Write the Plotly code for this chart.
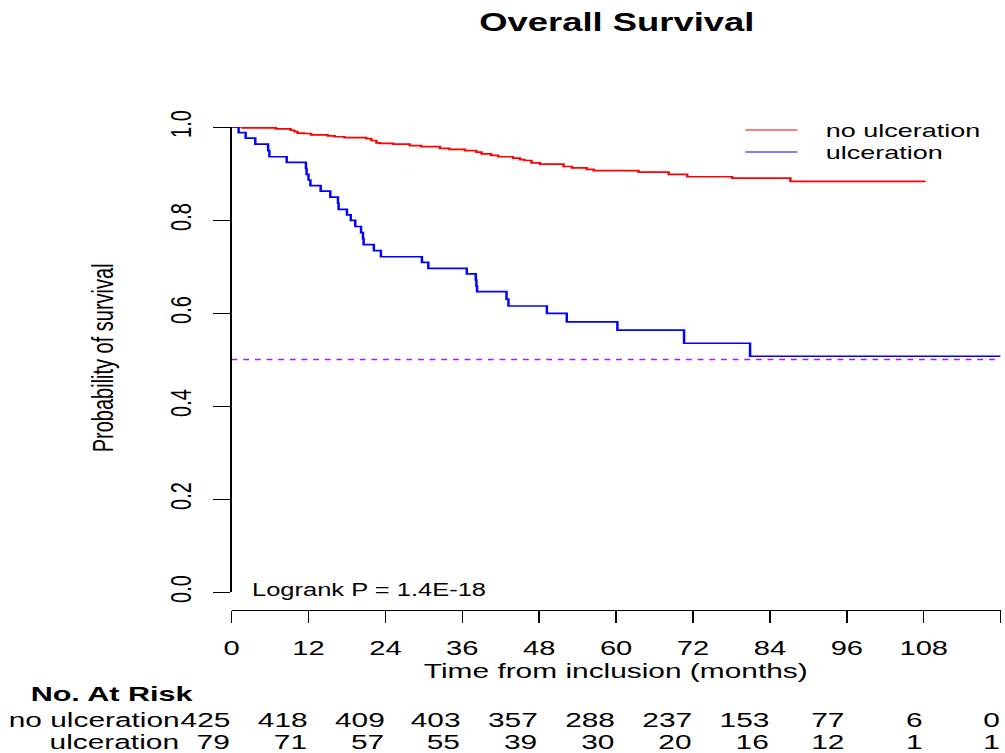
import plotly.graph_objects as go

# ---------------------------------------------------------------------------
# Kaplan-Meier estimates (time in months, survival probability after each event)
# ---------------------------------------------------------------------------
no_ulc_time = [0, 1.7, 6.9, 9.2, 9.8, 10.3, 11.3, 12.4, 15.0, 16.1,
               17.6, 21.0, 21.8, 22.6, 23.1, 25.2, 27.8, 29.6, 32.5, 34.0,
               36.4, 38.2, 39.0, 40.5, 41.6, 43.9, 45.0, 45.7, 46.8, 48.1,
               51.8, 53.1, 55.4, 56.5, 63.5, 68.2, 71.1, 78.1, 87.2, 108.3]
no_ulc_surv = [1.0, 0.998, 0.996, 0.993, 0.990, 0.987, 0.986, 0.983, 0.981, 0.979,
               0.977, 0.975, 0.971, 0.966, 0.965, 0.963, 0.960, 0.958, 0.954, 0.952,
               0.949, 0.946, 0.942, 0.939, 0.936, 0.933, 0.930, 0.928, 0.923, 0.920,
               0.915, 0.912, 0.909, 0.906, 0.903, 0.898, 0.893, 0.890, 0.883, 0.883]

ulc_time = [0, 1.1, 2.2, 3.7, 5.7, 5.9, 8.6, 11.6, 11.7, 12.0,
            12.3, 13.9, 15.4, 16.6, 16.7, 18.0, 18.6, 19.3, 20.2, 20.5,
            20.6, 22.2, 23.3, 29.7, 30.7, 36.7, 38.1, 38.2, 38.3, 42.9,
            43.2, 49.2, 52.3, 60.2, 70.6, 80.9, 120]
ulc_surv = [1.0, 0.988, 0.976, 0.963, 0.949, 0.936, 0.924, 0.911, 0.898, 0.886,
            0.874, 0.862, 0.849, 0.836, 0.823, 0.811, 0.799, 0.786, 0.773, 0.760,
            0.747, 0.734, 0.721, 0.709, 0.696, 0.684, 0.671, 0.658, 0.646, 0.630,
            0.615, 0.599, 0.581, 0.563, 0.535, 0.507, 0.507]

median_level = 0.5

# Number at risk table
risk_times = [0, 12, 24, 36, 48, 60, 72, 84, 96, 108, 120]
risk_no_ulc = [425, 418, 409, 403, 357, 288, 237, 153, 77, 6, 0]
risk_ulc = [79, 71, 57, 55, 39, 30, 20, 16, 12, 1, 1]

x_tick_vals = [0, 12, 24, 36, 48, 60, 72, 84, 96, 108, 120]
x_tick_text = ["0", "12", "24", "36", "48", "60", "72", "84", "96", "108", ""]
y_tick_vals = [0.0, 0.2, 0.4, 0.6, 0.8, 1.0]

group_names = ["no ulceration", "ulceration"]
group_colors = ["#FF0000", "#0000FF"]

# ---------------------------------------------------------------------------
# Geometry: the figure is drawn narrower and widened as a whole afterwards
# ---------------------------------------------------------------------------
SCREEN_W = 1005
W, H = 690, 753
STRETCH = SCREEN_W / W
ML = 232 / STRETCH
MR = W - 1000 / STRETCH
MT = 127
MB = H - 610
PW = W - ML - MR
PH = H - MT - MB


def paper_x(sx):
    """Screen x pixel -> paper coordinate."""
    return (sx / STRETCH - ML) / PW


def paper_y(sy):
    """Screen y pixel -> paper coordinate."""
    return (H - MB - sy) / PH


FONT = "Liberation Sans, Arial, Helvetica, sans-serif"
BLACK = "#000000"

fig = go.Figure()

fig.add_trace(go.Scatter(
    x=[0, 120], y=[median_level, median_level], mode="lines",
    line=dict(color="#A020F0", width=1.4, dash="4px,4px"),
    hoverinfo="skip", showlegend=False))

for t, s, name, color in [(no_ulc_time, no_ulc_surv, group_names[0], group_colors[0]),
                          (ulc_time, ulc_surv, group_names[1], group_colors[1])]:
    fig.add_trace(go.Scatter(
        x=t, y=s, mode="lines", name=name, line_shape="hv",
        line=dict(color=color, width=1.7), showlegend=False))

annotations = []
shapes = []

# Title
annotations.append(dict(text="<b>Overall Survival</b>", x=paper_x(616), y=paper_y(22),
                        xref="paper", yref="paper", xanchor="center", yanchor="middle",
                        showarrow=False, font=dict(size=25, color=BLACK, family=FONT)))

# Axis titles
annotations.append(dict(text="Probability of survival", x=paper_x(103), y=paper_y(358),
                        xref="paper", yref="paper", xanchor="center", yanchor="middle",
                        textangle=-90, showarrow=False,
                        font=dict(size=20, color=BLACK, family=FONT)))
annotations.append(dict(text="Time from inclusion (months)", x=paper_x(616), y=paper_y(670),
                        xref="paper", yref="paper", xanchor="center", yanchor="middle",
                        showarrow=False, font=dict(size=20.5, color=BLACK, family=FONT)))

# Legend
for i, (name, color) in enumerate(zip(group_names, group_colors)):
    ly = 130 + 22 * i
    shapes.append(dict(type="line", xref="paper", yref="paper",
                       x0=paper_x(745), x1=paper_x(797), y0=paper_y(ly), y1=paper_y(ly),
                       line=dict(color=color, width=1.2)))
    annotations.append(dict(text=name, x=paper_x(822), y=paper_y(ly),
                            xref="paper", yref="paper", xanchor="left", yanchor="middle",
                            showarrow=False, font=dict(size=18.5, color=BLACK, family=FONT)))

# Log-rank test result
annotations.append(dict(text="Logrank P = 1.4E-18", x=paper_x(249), y=paper_y(590),
                        xref="paper", yref="paper", xanchor="left", yanchor="middle",
                        showarrow=False, font=dict(size=17.5, color=BLACK, family=FONT)))

# Number at risk table
annotations.append(dict(text="<b>No. At Risk</b>", x=paper_x(28), y=paper_y(693),
                        xref="paper", yref="paper", xanchor="left", yanchor="middle",
                        showarrow=False, font=dict(size=21, color=BLACK, family=FONT)))
for row_y, name, counts in [(719, group_names[0], risk_no_ulc), (741, group_names[1], risk_ulc)]:
    annotations.append(dict(text=name, x=paper_x(181), y=paper_y(row_y),
                            xref="paper", yref="paper", xanchor="right", yanchor="middle",
                            showarrow=False, borderpad=0,
                            font=dict(size=20.5, color=BLACK, family=FONT)))
    for t, n in zip(risk_times, counts):
        annotations.append(dict(text=str(n), x=t, y=paper_y(row_y),
                                xref="x", yref="paper", xanchor="right", yanchor="middle",
                                showarrow=False, borderpad=0,
                                font=dict(size=20.5, color=BLACK, family=FONT)))

fig.update_layout(
    width=W, height=H,
    margin=dict(l=ML, r=MR, t=MT, b=MB, pad=0),
    paper_bgcolor="white", plot_bgcolor="white",
    font=dict(family=FONT, color=BLACK),
    showlegend=False,
    annotations=annotations,
    shapes=shapes,
    xaxis=dict(range=[0, 120], anchor="free", position=0,
               tickvals=x_tick_vals, ticktext=x_tick_text,
               ticks="outside", ticklen=12, tickwidth=1.2, tickcolor=BLACK,
               showline=True, linecolor=BLACK, linewidth=1.2,
               showgrid=False, zeroline=False,
               tickfont=dict(size=20, color=BLACK, family=FONT),
               ticklabelstandoff=8),
    yaxis=dict(range=[0, 1], domain=[paper_y(592), 1],
               tickvals=y_tick_vals, tickformat=".1f", tickangle=-90,
               ticks="outside", ticklen=12, tickwidth=1.2, tickcolor=BLACK,
               showline=True, linecolor=BLACK, linewidth=1.2,
               showgrid=False, zeroline=False,
               tickfont=dict(size=20, color=BLACK, family=FONT),
               ticklabelstandoff=7),
)

# Widen the rendered figure horizontally to its final on-screen width
post_js = """
document.documentElement.style.margin = '0';
document.body.style.margin = '0';
document.body.style.overflow = 'hidden';
var gd = document.getElementById('{plot_id}');
gd.style.transformOrigin = '0 0';
gd.style.transform = 'scaleX(%.5f)';
""" % STRETCH

fig.write_html("out.html", config={"displayModeBar": False}, post_script=post_js)
